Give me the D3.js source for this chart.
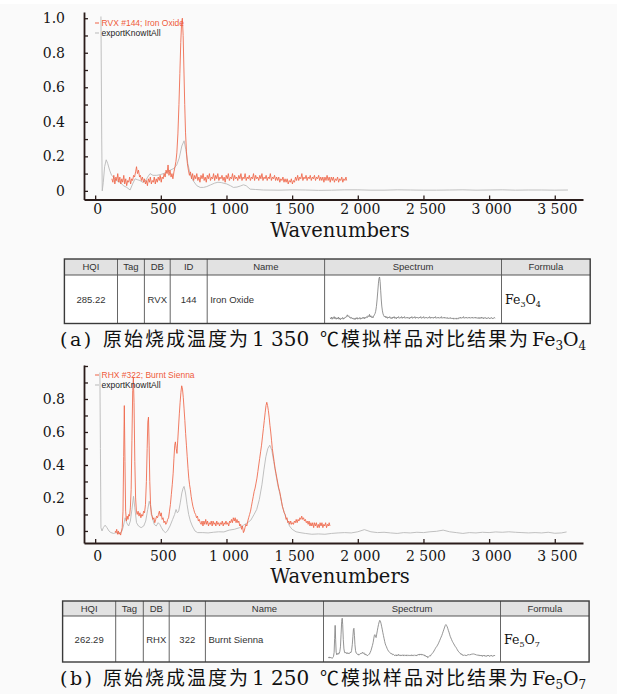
<!DOCTYPE html>
<html>
<head>
<meta charset="utf-8">
<script src="https://cdn.jsdelivr.net/npm/d3@7"></script>
<style>
  body { margin: 0; background: #fff; }
  svg { display: block; }
</style>
</head>
<body>
<div id="chart"></div>
<script>
// axis ticks
const xTickValues = [0, 500, 1000, 1500, 2000, 2500, 3000, 3500]
const xTickLabels = ["0", "500", "1 000", "1 500", "2 000", "2 500", "3 000", "3 500"]
const yTickValues = [0, 0.1, 0.2, 0.3, 0.4, 0.5, 0.6, 0.7, 0.8, 0.9, 1.0]
const topYLabels = ["0", "0.2", "0.4", "0.6", "0.8", "1.0"]
const bottomYLabels = ["0", "0.2", "0.4", "0.6", "0.8"]

// (a) reference: RVX #144 Iron Oxide  [wavenumber, intensity]
const ironOxideRef = [
  [127,0.07],[135,0.05],[142,0.09],[150,0.04],[158,0.08],[165,0.06],[172,0.1],[180,0.05],[188,0.08],[195,0.04],
  [203,0.07],[210,0.05],[218,0.09],[225,0.04],[233,0.07],[240,0.03],[248,0.06],[255,0.05],[263,0.08],[270,0.04],
  [278,0.07],[285,0.06],[293,0.09],[300,0.08],[308,0.11],[315,0.14],[322,0.1],[330,0.12],[338,0.08],[345,0.09],
  [352,0.06],[360,0.08],[368,0.05],[375,0.07],[383,0.04],[390,0.06],[398,0.03],[405,0.07],[413,0.05],[420,0.08],
  [428,0.04],[435,0.06],[443,0.05],[450,0.08],[458,0.04],[465,0.07],[473,0.05],[480,0.08],[488,0.06],[495,0.09],
  [503,0.05],[510,0.08],[518,0.07],[525,0.1],[533,0.08],[540,0.12],[548,0.1],[555,0.15],[562,0.09],[570,0.12],
  [578,0.08],[585,0.1],[592,0.07],[600,0.11],[608,0.14],[615,0.17],[622,0.22],[630,0.33],[638,0.5],[645,0.68],
  [652,0.86],[658,0.97],[664,1.0],[670,0.9],[676,0.7],[682,0.5],[688,0.34],[695,0.23],[702,0.16],[710,0.12],
  [718,0.09],[726,0.11],[734,0.07],[742,0.1],[750,0.06],[758,0.09],[766,0.07],[774,0.1],[782,0.06],[790,0.08],
  [798,0.05],[806,0.09],[814,0.07],[822,0.1],[830,0.06],[838,0.08],[846,0.05],[854,0.09],[862,0.07],[870,0.1],
  [878,0.06],[886,0.08],[894,0.07],[902,0.1],[910,0.06],[918,0.09],[926,0.07],[934,0.1],[942,0.06],[950,0.08],
  [958,0.07],[966,0.09],[974,0.06],[982,0.08],[990,0.05],[998,0.09],[1006,0.07],[1014,0.1],[1022,0.06],[1030,0.08],
  [1038,0.07],[1046,0.1],[1054,0.06],[1062,0.09],[1070,0.07],[1078,0.08],[1086,0.06],[1094,0.09],[1102,0.07],[1110,0.1],
  [1118,0.06],[1126,0.08],[1134,0.07],[1142,0.1],[1150,0.06],[1158,0.08],[1166,0.07],[1174,0.09],[1182,0.06],[1190,0.08],
  [1198,0.07],[1206,0.1],[1214,0.06],[1222,0.09],[1230,0.07],[1238,0.08],[1246,0.06],[1254,0.09],[1262,0.07],[1270,0.1],
  [1278,0.06],[1286,0.08],[1294,0.07],[1302,0.09],[1310,0.06],[1318,0.08],[1326,0.07],[1334,0.1],[1342,0.06],[1350,0.08],
  [1358,0.07],[1366,0.09],[1374,0.06],[1382,0.08],[1390,0.06],[1398,0.08],[1406,0.05],[1414,0.07],[1422,0.06],[1430,0.08],
  [1438,0.05],[1446,0.07],[1454,0.05],[1462,0.07],[1470,0.04],[1478,0.06],[1486,0.05],[1494,0.07],[1502,0.04],[1510,0.06],
  [1518,0.05],[1526,0.08],[1534,0.06],[1542,0.09],[1550,0.06],[1558,0.08],[1566,0.07],[1574,0.1],[1582,0.06],[1590,0.08],
  [1598,0.07],[1606,0.09],[1614,0.06],[1622,0.08],[1630,0.07],[1638,0.09],[1646,0.06],[1654,0.08],[1662,0.07],[1670,0.09],
  [1678,0.06],[1686,0.08],[1694,0.07],[1702,0.09],[1710,0.06],[1718,0.08],[1726,0.06],[1734,0.08],[1742,0.05],[1750,0.08],
  [1758,0.06],[1766,0.09],[1774,0.06],[1782,0.08],[1790,0.05],[1798,0.08],[1806,0.06],[1814,0.08],[1822,0.05],[1830,0.07],
  [1838,0.06],[1846,0.08],[1854,0.05],[1862,0.07],[1870,0.06],[1878,0.08],[1886,0.05],[1894,0.07],[1902,0.06],[1910,0.08],
  [1915,0.06]
]

// (a) measured sample: exportKnowItAll
const sampleA = [
  [44,1.01],[50,0.3],[54,0.0],[62,0.05],[72,0.14],[84,0.18],[95,0.16],[110,0.12],[125,0.09],[140,0.08],
  [160,0.06],[190,0.05],[215,0.03],[241,0.02],[266,0.005],[285,0.04],[304,0.07],[320,0.065],[342,0.06],[360,0.05],
  [380,0.055],[400,0.08],[418,0.1],[440,0.09],[469,0.09],[500,0.095],[520,0.1],[550,0.11],[571,0.12],[600,0.13],
  [621,0.15],[640,0.19],[660,0.26],[677,0.29],[690,0.24],[705,0.16],[723,0.1],[745,0.06],[774,0.03],[800,0.02],
  [825,0.02],[850,0.025],[880,0.035],[910,0.045],[935,0.05],[960,0.048],[1002,0.04],[1030,0.03],[1053,0.02],[1080,0.022],
  [1105,0.028],[1129,0.035],[1150,0.03],[1180,0.01],[1220,0.008],[1281,0.005],[1400,0.004],[1500,0.006],[1600,0.005],[1700,0.003],
  [1800,0.004],[1900,0.006],[2000,0.006],[2100,0.004],[2200,0.004],[2300,0.006],[2400,0.005],[2500,0.004],[2600,0.004],[2700,0.005],
  [2800,0.006],[2900,0.004],[3000,0.005],[3100,0.006],[3200,0.004],[3300,0.005],[3400,0.005],[3500,0.004],[3600,0.005]
]

// (b) reference: RHX #322 Burnt Sienna
const burntSiennaRef = [
  [152,0.0],[158,-0.01],[164,0.01],[170,-0.02],[176,0.0],[182,-0.02],[188,-0.01],[194,-0.025],[200,0.0],[206,0.02],
  [212,0.12],[217,0.45],[222,0.76],[227,0.42],[232,0.12],[238,0.06],[244,0.09],[250,0.07],[256,0.1],[262,0.09],
  [268,0.14],[274,0.25],[280,0.55],[286,0.85],[291,0.93],[296,0.78],[302,0.42],[308,0.2],[314,0.12],[320,0.1],
  [327,0.12],[334,0.09],[341,0.11],[348,0.08],[355,0.1],[362,0.09],[369,0.12],[376,0.11],[383,0.16],[390,0.3],
  [396,0.5],[401,0.66],[406,0.69],[411,0.52],[416,0.3],[422,0.16],[428,0.1],[434,0.09],[440,0.07],[447,0.08],
  [454,0.05],[461,0.07],[468,0.09],[475,0.08],[482,0.1],[489,0.12],[496,0.09],[503,0.11],[510,0.07],[517,0.08],
  [524,0.05],[531,0.06],[538,0.04],[545,0.05],[552,0.07],[559,0.08],[566,0.12],[573,0.16],[580,0.22],[587,0.28],
  [594,0.35],[600,0.44],[606,0.52],[611,0.54],[617,0.5],[623,0.47],[629,0.55],[635,0.63],[641,0.71],[647,0.78],
  [653,0.84],[659,0.88],[665,0.86],[671,0.81],[677,0.74],[683,0.67],[689,0.59],[695,0.52],[701,0.45],[707,0.38],
  [713,0.32],[719,0.28],[725,0.25],[731,0.21],[737,0.18],[744,0.15],[751,0.13],[758,0.11],[765,0.1],[772,0.08],
  [779,0.09],[786,0.06],[793,0.07],[800,0.05],[807,0.04],[814,0.06],[821,0.03],[828,0.06],[835,0.04],[842,0.07],
  [849,0.04],[856,0.06],[863,0.03],[870,0.05],[877,0.04],[884,0.06],[891,0.03],[898,0.06],[905,0.04],[912,0.05],
  [919,0.03],[926,0.06],[933,0.04],[940,0.05],[947,0.03],[954,0.05],[961,0.04],[968,0.06],[975,0.03],[982,0.05],
  [989,0.04],[996,0.06],[1003,0.04],[1010,0.05],[1017,0.03],[1024,0.06],[1031,0.05],[1038,0.07],[1045,0.05],[1052,0.08],
  [1059,0.06],[1066,0.08],[1073,0.05],[1080,0.07],[1087,0.05],[1094,0.06],[1101,0.03],[1108,0.04],[1115,0.01],[1122,0.03],
  [1129,-0.01],[1135,0.0],[1141,0.02],[1148,0.04],[1155,0.03],[1162,0.06],[1169,0.08],[1176,0.1],[1183,0.12],[1190,0.15],
  [1197,0.18],[1204,0.21],[1211,0.24],[1218,0.26],[1225,0.29],[1232,0.32],[1239,0.36],[1246,0.4],[1253,0.44],[1260,0.48],
  [1267,0.52],[1274,0.57],[1281,0.62],[1288,0.67],[1295,0.72],[1301,0.76],[1307,0.78],[1313,0.76],[1319,0.73],[1325,0.69],
  [1331,0.64],[1337,0.6],[1343,0.55],[1349,0.5],[1356,0.46],[1363,0.42],[1370,0.38],[1377,0.35],[1384,0.32],[1391,0.29],
  [1398,0.26],[1405,0.24],[1412,0.21],[1419,0.18],[1426,0.15],[1433,0.13],[1440,0.11],[1447,0.1],[1454,0.07],[1461,0.08],
  [1468,0.05],[1475,0.06],[1482,0.04],[1489,0.06],[1496,0.04],[1503,0.05],[1510,0.04],[1517,0.06],[1524,0.05],[1531,0.07],
  [1538,0.05],[1545,0.07],[1552,0.06],[1559,0.08],[1566,0.07],[1573,0.09],[1580,0.07],[1587,0.08],[1594,0.06],[1601,0.07],
  [1608,0.05],[1615,0.06],[1622,0.04],[1629,0.06],[1636,0.03],[1643,0.05],[1650,0.03],[1657,0.05],[1664,0.02],[1671,0.05],
  [1678,0.03],[1685,0.05],[1692,0.02],[1699,0.04],[1706,0.02],[1713,0.05],[1720,0.03],[1727,0.05],[1734,0.02],[1741,0.04],
  [1748,0.03],[1755,0.05],[1762,0.02],[1769,0.04],[1776,0.03],[1782,0.05],[1788,0.03]
]

// (b) measured sample: exportKnowItAll
const sampleB = [
  [36,0.96],[40,0.5],[44,0.02],[52,0.0],[62,0.02],[76,0.035],[90,0.02],[105,0.0],[120,-0.01],[140,-0.015],
  [160,-0.01],[180,-0.015],[195,-0.01],[205,0.0],[215,0.03],[228,0.08],[240,0.05],[255,0.03],[268,0.06],[280,0.13],
  [292,0.21],[302,0.14],[315,0.05],[330,0.03],[350,0.02],[370,0.03],[385,0.06],[400,0.13],[412,0.18],[422,0.15],
  [435,0.08],[450,0.04],[465,0.03],[480,0.05],[492,0.04],[505,0.02],[520,0.0],[535,-0.01],[550,0.0],[570,0.03],
  [590,0.07],[605,0.1],[616,0.13],[626,0.11],[636,0.12],[648,0.17],[660,0.23],[670,0.26],[677,0.27],[688,0.23],
  [700,0.16],[712,0.1],[725,0.06],[740,0.03],[760,0.0],[780,-0.01],[820,-0.01],[860,-0.012],[900,-0.008],[940,-0.005],
  [980,-0.006],[1020,0.005],[1060,0.01],[1100,0.02],[1130,0.035],[1160,0.05],[1185,0.065],[1210,0.1],[1230,0.13],[1250,0.19],
  [1270,0.28],[1285,0.37],[1300,0.45],[1315,0.5],[1330,0.52],[1345,0.49],[1360,0.42],[1375,0.35],[1390,0.28],[1408,0.22],
  [1425,0.15],[1440,0.11],[1459,0.07],[1480,0.03],[1500,0.01],[1530,-0.005],[1560,-0.01],[1600,-0.015],[1650,-0.02],[1700,-0.018],
  [1750,-0.02],[1800,-0.015],[1850,-0.012],[1900,-0.01],[1950,-0.012],[2000,-0.005],[2050,0.008],[2100,-0.005],[2150,-0.01],[2200,-0.008],
  [2250,-0.012],[2300,-0.015],[2350,-0.01],[2400,-0.012],[2450,-0.008],[2500,-0.01],[2550,-0.005],[2600,-0.002],[2650,0.005],[2700,-0.005],
  [2750,-0.01],[2800,-0.015],[2850,-0.01],[2900,-0.012],[2950,-0.008],[3000,-0.01],[3050,-0.006],[3100,-0.008],[3150,-0.005],[3200,-0.008],
  [3250,-0.01],[3300,-0.012],[3350,-0.01],[3400,-0.012],[3450,-0.008],[3500,-0.014],[3550,-0.012],[3590,-0.006]
]

// match tables
const tableHeaders = ["HQI", "Tag", "DB", "ID", "Name", "Spectrum", "Formula"]
const rowA = ["285.22", "", "RVX", "144", "Iron Oxide"]
const rowB = ["262.29", "", "RHX", "322", "Burnt Sienna"]
const formulaA = ["Fe", "3", "O", "4"]
const formulaB = ["Fe", "5", "O", "7"]

const width = 617, height = 694
const red = "#ef6548", gray = "#b9b9b9"
const serif = "'DejaVu Serif', serif"
const sans = "'Liberation Sans', Arial, sans-serif"
const cjk = "'Noto Sans CJK SC', sans-serif"

const svg = d3.select("#chart").append("svg")
  .attr("width", width)
  .attr("height", height)

svg.append("rect").attr("width", width).attr("height", height).attr("fill", "#fafafa")
svg.append("rect").attr("width", width).attr("height", 4).attr("fill", "#fff")

function drawPanel(p) {
  const x = d3.scaleLinear().domain([-85, 3715]).range([84, 583])
  const y = d3.scaleLinear().domain(p.yDomain).range(p.yRange)
  const g = svg.append("g")

  const line = d3.line().x(d => x(d[0])).y(d => y(d[1]))

  g.append("path").datum(p.sample)
    .attr("d", line).attr("fill", "none")
    .attr("stroke", gray).attr("stroke-width", 0.9)

  g.append("path").datum(p.ref)
    .attr("d", line).attr("fill", "none")
    .attr("stroke", red).attr("stroke-width", 0.9).attr("stroke-opacity", 0.95)

  // axes
  const xAxis = g.append("g")
    .attr("transform", `translate(0,${p.yRange[0]})`)
    .call(d3.axisBottom(x).tickValues(xTickValues)
      .tickFormat((d, i) => xTickLabels[i])
      .tickSize(-4).tickSizeOuter(0).tickPadding(p.xPad))
  const yAxis = g.append("g")
    .attr("transform", "translate(84,0)")
    .call(d3.axisLeft(y).tickValues(yTickValues)
      .tickFormat(d => {
        const k = Math.round(d * 10)
        return k % 2 === 0 ? (p.yLabels[k / 2] || "") : ""
      })
      .tickSize(-4).tickSizeOuter(0).tickPadding(19))

  for (const ax of [xAxis, yAxis]) {
    ax.selectAll("path, line").attr("stroke", "#2a1c1a")
    ax.select(".domain").attr("stroke-width", 1.8)
    ax.selectAll(".tick line").attr("stroke-width", 1.3)
    ax.selectAll("text").attr("font-family", serif).attr("font-size", 14).attr("fill", "#151515")
  }
  xAxis.selectAll("text").attr("dx", 2)

  g.append("text")
    .attr("x", 340).attr("y", p.titleY)
    .attr("text-anchor", "middle")
    .attr("font-family", serif).attr("font-size", 19.5).attr("fill", "#151515")
    .text("Wavenumbers")

  // legend
  const legend = [[p.legendName, red, "#ef5a3a"], ["exportKnowItAll", gray, "#222"]]
  legend.forEach(([name, c, tc], i) => {
    const ly = p.legendY + i * 10
    g.append("line").attr("x1", 95).attr("x2", 99).attr("y1", ly - 3).attr("y2", ly - 3)
      .attr("stroke", c).attr("stroke-width", 1)
    g.append("text").attr("x", 101.5).attr("y", ly)
      .attr("font-family", sans).attr("font-size", 8.5).attr("fill", tc)
      .text(name)
  })
}

function drawTable(t) {
  const g = svg.append("g")
  const cols = t.cols
  g.append("rect").attr("x", cols[0]).attr("y", t.top)
    .attr("width", cols[cols.length - 1] - cols[0]).attr("height", t.bottom - t.top)
    .attr("fill", "#fff")
  g.append("rect").attr("x", cols[0]).attr("y", t.top)
    .attr("width", cols[cols.length - 1] - cols[0]).attr("height", t.head - t.top)
    .attr("fill", "#e2e2e2")
  g.append("line").attr("x1", cols[0]).attr("x2", cols[cols.length - 1])
    .attr("y1", t.head).attr("y2", t.head).attr("stroke", "#444").attr("stroke-width", 0.9)
  cols.slice(1, -1).forEach(c => {
    g.append("line").attr("x1", c).attr("x2", c).attr("y1", t.top).attr("y2", t.bottom)
      .attr("stroke", "#555").attr("stroke-width", 0.9)
  })
  g.append("rect").attr("x", cols[0]).attr("y", t.top)
    .attr("width", cols[cols.length - 1] - cols[0]).attr("height", t.bottom - t.top)
    .attr("fill", "none").attr("stroke", "#3a3a3a").attr("stroke-width", 1.4)

  tableHeaders.forEach((h, i) => {
    g.append("text").attr("x", (cols[i] + cols[i + 1]) / 2).attr("y", (t.top + t.head) / 2 + 3.3)
      .attr("text-anchor", "middle").attr("font-family", sans).attr("font-size", 9.5).attr("fill", "#333")
      .text(h)
  })
  const rowY = (t.head + t.bottom) / 2 + 3.5
  t.row.forEach((v, i) => {
    const left = i === 4
    g.append("text")
      .attr("x", left ? cols[i] + 3 : (cols[i] + cols[i + 1]) / 2).attr("y", rowY)
      .attr("text-anchor", left ? "start" : "middle")
      .attr("font-family", sans).attr("font-size", 9.5).attr("fill", "#333")
      .text(v)
  })

  // spectrum thumbnail
  const tx = d3.scaleLinear().domain(d3.extent(t.ref, d => d[0])).range(t.thumbX)
  const ty = d3.scaleLinear().domain([0, 1]).range(t.thumbY)
  g.append("path").datum(t.ref)
    .attr("d", d3.line().x(d => tx(d[0])).y(d => ty(d[1])))
    .attr("fill", "none").attr("stroke", "#7a7a7a").attr("stroke-width", 0.8)

  // formula with subscripts
  const f = g.append("text").attr("x", cols[6] + 3.5).attr("y", rowY + 1)
    .attr("font-family", serif).attr("font-size", 12.5).attr("fill", "#111")
  f.append("tspan").text(t.formula[0])
  f.append("tspan").attr("dy", 3).attr("font-size", 8).text(t.formula[1])
  f.append("tspan").attr("dy", -3).text(t.formula[2])
  f.append("tspan").attr("dy", 3).attr("font-size", 8).text(t.formula[3])
}

function drawCaption(c) {
  const g = svg.append("g").attr("fill", "#111")
  g.append("text").attr("x", 60).attr("y", c.y)
    .attr("font-family", serif).attr("font-size", 19).attr("letter-spacing", 2.5)
    .text(c.label)
  g.append("text").attr("x", 103).attr("y", c.y)
    .attr("font-family", cjk).attr("font-size", 19).attr("letter-spacing", 2)
    .text("原始烧成温度为")
  g.append("text").attr("x", 252).attr("y", c.y)
    .attr("font-family", serif).attr("font-size", 20)
    .text(c.temp)
  g.append("text").attr("x", 320).attr("y", c.y)
    .attr("font-family", cjk).attr("font-size", 19).attr("letter-spacing", 2)
    .text("℃模拟样品对比结果为")
  const f = g.append("text").attr("x", 532).attr("y", c.y)
    .attr("font-family", serif).attr("font-size", 19)
  f.append("tspan").text(c.formula[0])
  f.append("tspan").attr("dy", 4).attr("font-size", 12).text(c.formula[1])
  f.append("tspan").attr("dy", -4).text(c.formula[2])
  f.append("tspan").attr("dy", 4).attr("font-size", 12).text(c.formula[3])
}

drawPanel({
  ref: ironOxideRef, sample: sampleA,
  yDomain: [-0.05, 1.036], yRange: [199.5, 12], yLabels: topYLabels,
  xPad: 5, titleY: 237, legendName: "RVX #144; Iron Oxide", legendY: 26
})
drawTable({
  cols: [64.4, 117.5, 144.4, 170.2, 207.2, 324.6, 501.5, 590.2],
  top: 259, head: 275, bottom: 323.5, row: rowA, formula: formulaA,
  ref: ironOxideRef, thumbX: [330, 495], thumbY: [321, 277]
})
drawCaption({ y: 346, label: "(a)", temp: "1 350", formula: formulaA })

drawPanel({
  ref: burntSiennaRef, sample: sampleB,
  yDomain: [-0.073, 1.006], yRange: [543, 365], yLabels: bottomYLabels,
  xPad: 8, titleY: 582.5, legendName: "RHX #322; Burnt Sienna", legendY: 378
})
drawTable({
  cols: [62.6, 115.7, 143.3, 169.2, 205.4, 323.5, 500.5, 589.1],
  top: 601, head: 616, bottom: 662, row: rowB, formula: formulaB,
  ref: burntSiennaRef, thumbX: [328, 495], thumbY: [657.3, 615.3]
})
drawCaption({ y: 685, label: "(b)", temp: "1 250", formula: formulaB })
</script>
</body>
</html>
